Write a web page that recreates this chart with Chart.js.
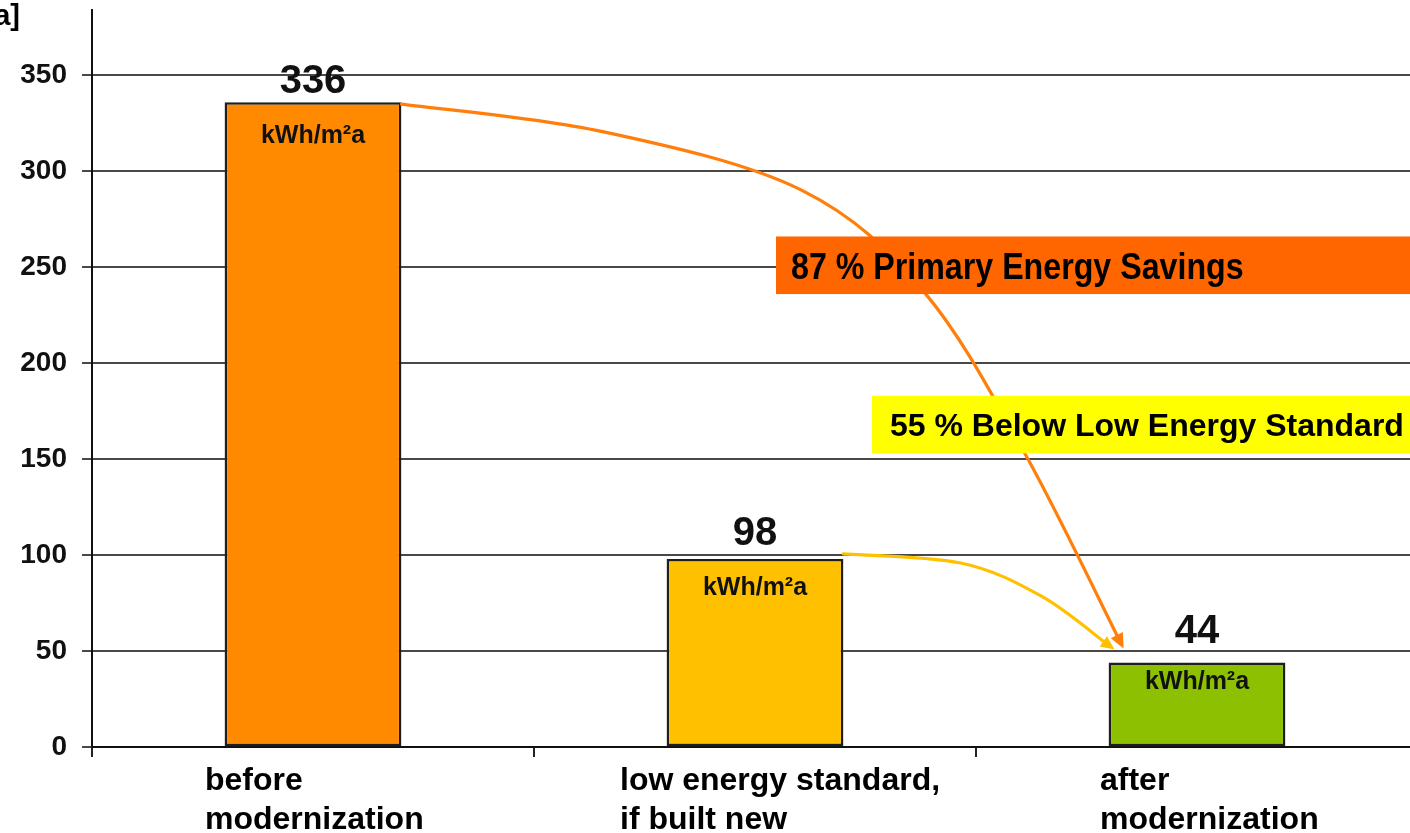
<!DOCTYPE html>
<html>
<head>
<meta charset="utf-8">
<script src="https://cdn.jsdelivr.net/npm/chart.js@4.4.1/dist/chart.umd.min.js"></script>
<style>
  html, body { margin: 0; padding: 0; background: #fff; overflow: hidden; }
  #wrap { position: relative; width: 1420px; height: 833px; }
  canvas { display: block; }
</style>
</head>
<body>
<div id="wrap"><canvas id="myChart" width="1420" height="833"></canvas></div>
<script>
// chart data
const CATEGORIES = [['before', 'modernization'], ['low energy standard,', 'if built new'], ['after', 'modernization']];
const VALUES = [336, 98, 44];
const UNIT = 'kWh/m²a';
const Y_TICKS = [0, 50, 100, 150, 200, 250, 300, 350];
const Y_MAX = 384;
const AXIS_TITLE = 'Primary energy demand [kWh/m²a]';
const SAVINGS_TEXT = '87 % Primary Energy Savings';
const BELOW_TEXT = '55 % Below Low Energy Standard';

const BAR_COLORS = ['#FF8A00', '#FFC000', '#8CC000'];
const FONT = '"Liberation Sans", Arial, sans-serif';

// small per-bar tweaks for label placement (pixels)
const NUMBER_GAP = [9, 14, 20];
const UNIT_OFFSET = [41, 36, 26];
const LABEL_DX = [-108, -135, -97];

// curve shapes, as fractions of the way from start to end
const ORANGE_PATH = [[0, 0], [0.277, 0.05], [0.554, 0.158], [0.7244, 0.3462], [0.8629, 0.6409], [1, 1]];
const YELLOW_PATH = [[0, 0], [0.433, 0.095], [0.73, 0.442], [1, 1]];

function smoothPath(ctx, pts) {
  ctx.moveTo(pts[0][0], pts[0][1]);
  for (let i = 0; i < pts.length - 1; i++) {
    const p0 = pts[i - 1] || pts[i];
    const p1 = pts[i];
    const p2 = pts[i + 1];
    const p3 = pts[i + 2] || p2;
    ctx.bezierCurveTo(
      p1[0] + (p2[0] - p0[0]) / 6, p1[1] + (p2[1] - p0[1]) / 6,
      p2[0] - (p3[0] - p1[0]) / 6, p2[1] - (p3[1] - p1[1]) / 6,
      p2[0], p2[1]);
  }
}

function drawArrow(ctx, start, end, path, color, width, head) {
  const pts = path.map(([u, v]) => [start[0] + u * (end[0] - start[0]), start[1] + v * (end[1] - start[1])]);
  const n = pts.length;
  const [px, py] = pts[n - 2];
  const [ex, ey] = pts[n - 1];
  const ang = Math.atan2(ey - py, ex - px);
  const line = pts.slice();
  line[n - 1] = [ex - Math.cos(ang) * head * 0.6, ey - Math.sin(ang) * head * 0.6];

  ctx.strokeStyle = color;
  ctx.fillStyle = color;
  ctx.lineWidth = width;
  ctx.lineCap = 'round';
  ctx.beginPath();
  smoothPath(ctx, line);
  ctx.stroke();

  // arrow head
  const cos = Math.cos(ang), sin = Math.sin(ang), w = head * 0.45;
  ctx.beginPath();
  ctx.moveTo(ex, ey);
  ctx.lineTo(ex - head * cos + w * sin, ey - head * sin - w * cos);
  ctx.lineTo(ex - head * cos - w * sin, ey - head * sin + w * cos);
  ctx.closePath();
  ctx.fill();
}

function drawBox(ctx, left, top, right, bottom, fill, text, fontSize, scaleX, pad) {
  ctx.fillStyle = fill;
  ctx.fillRect(left, top, right - left, bottom - top);
  ctx.save();
  ctx.fillStyle = '#000';
  ctx.font = `bold ${fontSize}px ${FONT}`;
  ctx.textAlign = 'left';
  ctx.textBaseline = 'alphabetic';
  ctx.translate(left + pad, (top + bottom) / 2 + fontSize * 0.358);
  ctx.scale(scaleX, 1);
  ctx.fillText(text, 0, 0);
  ctx.restore();
}

const ANNOTATIONS = {
  id: 'annotations',
  afterDatasetsDraw(chart) {
    const { ctx, scales: { x, y } } = chart;
    const bars = chart.getDatasetMeta(0).data;
    ctx.save();

    // arrows
    const b1 = bars[0], b2 = bars[1], b3 = bars[2];
    drawArrow(ctx, [b1.x + b1.width / 2, b1.y + 2], [b3.x - b3.width / 2 + 15, b3.y - 14],
      ORANGE_PATH, '#FF7F0A', 3.2, 15);
    drawArrow(ctx, [b2.x + b2.width / 2, b2.y - 5], [b3.x - b3.width / 2 + 6, b3.y - 13],
      YELLOW_PATH, '#FFC000', 3.2, 14);

    // callout boxes
    drawBox(ctx, x.getPixelForValue(1.0475), y.getPixelForValue(266), chart.width, y.getPixelForValue(236),
      '#FF6600', SAVINGS_TEXT, 37, 0.87, 15);
    drawBox(ctx, x.getPixelForValue(1.2647), y.getPixelForValue(183), chart.width, y.getPixelForValue(153),
      '#FFFF00', BELOW_TEXT, 32, 1, 18);

    // value labels
    ctx.fillStyle = '#111';
    ctx.textAlign = 'center';
    ctx.textBaseline = 'alphabetic';
    bars.forEach((bar, i) => {
      ctx.font = `bold 40px ${FONT}`;
      ctx.fillText(String(VALUES[i]), bar.x, bar.y - NUMBER_GAP[i]);
      ctx.font = `bold 25px ${FONT}`;
      ctx.fillText(UNIT, bar.x, bar.y + UNIT_OFFSET[i]);
    });

    // category labels
    ctx.fillStyle = '#000';
    ctx.textAlign = 'left';
    ctx.font = `bold 32px ${FONT}`;
    CATEGORIES.forEach((lines, i) => {
      const cx = x.getPixelForValue(i) + LABEL_DX[i];
      lines.forEach((line, j) => ctx.fillText(line, cx, y.bottom + 43 + j * 39));
    });

    // axis title (cut off by the left edge)
    ctx.textAlign = 'right';
    ctx.font = `bold 29px ${FONT}`;
    ctx.fillText(AXIS_TITLE, 20, 25);

    ctx.restore();
  }
};

const DATA = {
  labels: CATEGORIES,
  datasets: [{
    label: '',
    data: VALUES,
    backgroundColor: BAR_COLORS,
    borderColor: '#1e1e1e',
    borderWidth: 2.5,
    borderSkipped: false,
    barPercentage: 0.4,
    categoryPercentage: 1
  }]
};

const CONFIG = {
  type: 'bar',
  data: DATA,
  options: {
    responsive: false,
    animation: false,
    layout: { padding: { top: 10, right: 2, left: 0, bottom: 0 } },
    plugins: {
      legend: { display: false },
      tooltip: { enabled: false }
    },
    scales: {
      x: {
        grid: {
          offset: true,
          drawOnChartArea: false,
          drawTicks: true,
          tickLength: 10,
          color: '#222',
          lineWidth: 2
        },
        border: { color: '#111', width: 2 },
        ticks: { display: false },
        afterFit: scale => { scale.height = 86; scale.paddingLeft = 0; scale.paddingRight = 0; }
      },
      y: {
        min: 0,
        max: Y_MAX,
        grid: {
          color: '#484848',
          lineWidth: 2,
          tickLength: 10
        },
        border: { color: '#111', width: 2 },
        ticks: {
          color: '#111',
          padding: 15,
          font: { family: FONT, size: 28, weight: 'bold' }
        },
        afterBuildTicks: scale => { scale.ticks = Y_TICKS.map(v => ({ value: v })); },
        afterFit: scale => { scale.width = 92; scale.paddingTop = 0; scale.paddingBottom = 0; }
      }
    }
  },
  plugins: [ANNOTATIONS]
};

const MY_CHART = new Chart(document.getElementById('myChart'), CONFIG);
</script>
</body>
</html>
